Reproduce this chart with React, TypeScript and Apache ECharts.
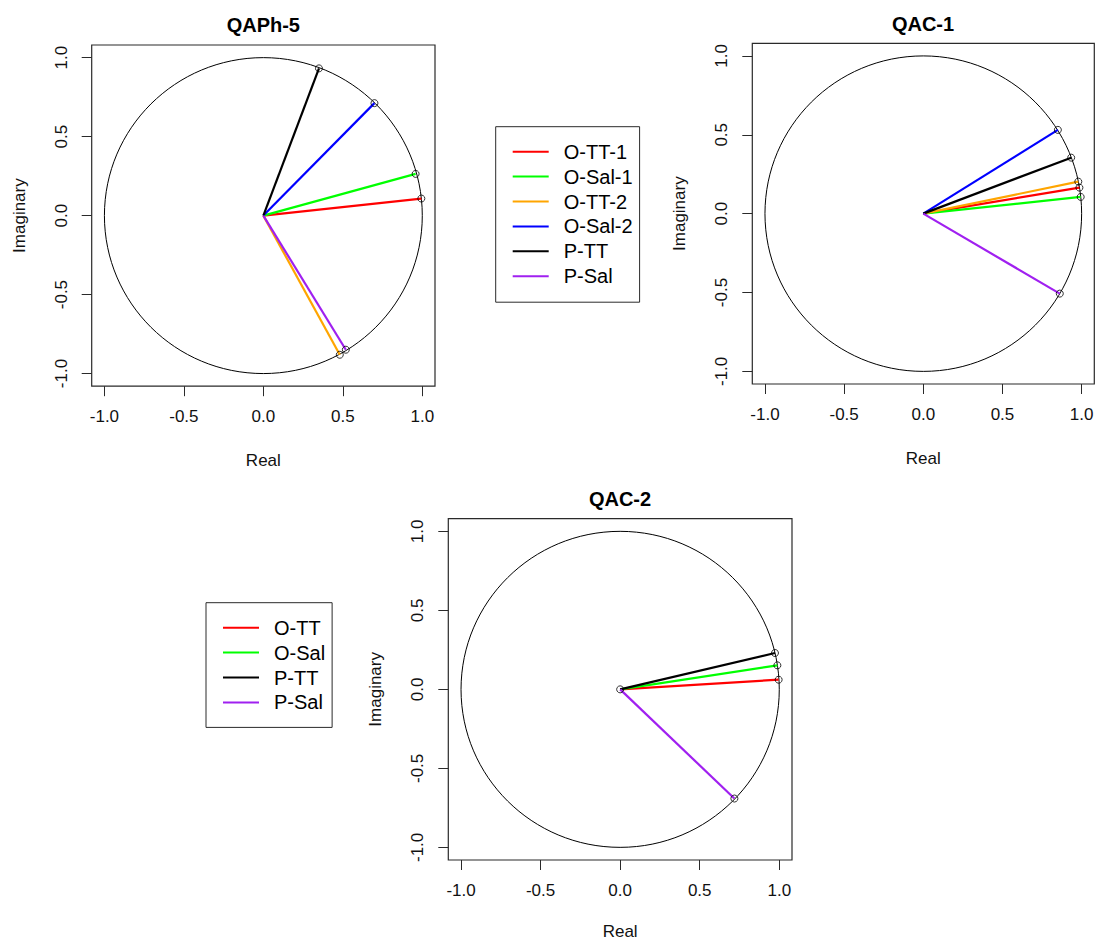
import React, { useEffect, useRef } from "react";
import * as echarts from "echarts";

// ---------- data ----------
const titles = ["QAPh-5", "QAC-1", "QAC-2"];
const xAxisName = "Real";
const yAxisName = "Imaginary";
const tickValues = [-1, -0.5, 0, 0.5, 1];
const axisMin = -1.08;
const axisMax = 1.08;
const unitCircle = [0, 0, 1]; // centre x, centre y, radius

const names6 = ["O-TT-1", "O-Sal-1", "O-TT-2", "O-Sal-2", "P-TT", "P-Sal"];
const colors6 = ["#FF0000", "#00FF00", "#FFA500", "#0000FF", "#000000", "#A020F0"];
const names4 = ["O-TT", "O-Sal", "P-TT", "P-Sal"];
const colors4 = ["#FF0000", "#00FF00", "#000000", "#A020F0"];

const qaph5Real = [0.994, 0.958, 0.481, 0.699, 0.35, 0.519];
const qaph5Imag = [0.108, 0.264, -0.881, 0.712, 0.932, -0.849];

const qac1Real = [0.986, 0.994, 0.979, 0.85, 0.934, 0.862];
const qac1Imag = [0.165, 0.106, 0.203, 0.531, 0.355, -0.507];

const qac2Real = [0.996, 0.988, 0.973, 0.718];
const qac2Imag = [0.061, 0.152, 0.23, -0.691];
const qac2ExtraReal = [0];
const qac2ExtraImag = [0];

const FONT = "'Liberation Sans', Arial, sans-serif";
const TXT = "#111";
const BORDER = "#2a2a2a";

const grids = [
  { left: 91.7, top: 45, width: 343.3, height: 341.2 },
  { left: 752.3, top: 43.3, width: 342, height: 340.7 },
  { left: 448.3, top: 518.7, width: 343.7, height: 341.3 },
];
const titlePos = [
  [263.3, 25],
  [923, 24],
  [620, 499],
];
const xNameGaps = [66, 66, 63];

function xAxisFor(i: number) {
  return {
    type: "value",
    gridIndex: i,
    min: axisMin,
    max: axisMax,
    position: "bottom",
    name: xAxisName,
    nameLocation: "middle",
    nameGap: xNameGaps[i],
    nameTextStyle: { fontFamily: FONT, fontSize: 17, color: TXT },
    axisLine: { show: false, onZero: false },
    axisTick: {
      show: true,
      inside: false,
      length: 10,
      customValues: tickValues,
      lineStyle: { color: BORDER, width: 1 },
    },
    axisLabel: {
      customValues: tickValues,
      formatter: (v: number) => v.toFixed(1),
      margin: 22,
      fontSize: 17,
      fontFamily: FONT,
      color: TXT,
    },
    splitLine: { show: false },
  };
}

function yAxisFor(i: number) {
  return {
    type: "value",
    gridIndex: i,
    min: axisMin,
    max: axisMax,
    position: "left",
    name: yAxisName,
    nameLocation: "middle",
    nameGap: 64,
    nameTextStyle: { fontFamily: FONT, fontSize: 17, color: TXT },
    axisLine: { show: false, onZero: false },
    axisTick: {
      show: true,
      inside: false,
      length: 10,
      customValues: tickValues,
      lineStyle: { color: BORDER, width: 1 },
    },
    axisLabel: {
      customValues: tickValues,
      formatter: (v: number) => v.toFixed(1),
      margin: 22,
      rotate: 90,
      fontSize: 17,
      fontFamily: FONT,
      color: TXT,
    },
    splitLine: { show: false },
  };
}

function circleSeries(i: number) {
  return {
    type: "custom",
    xAxisIndex: i,
    yAxisIndex: i,
    silent: true,
    z: 1,
    data: [unitCircle],
    renderItem: (_p: any, api: any) => {
      const c = api.coord([api.value(0), api.value(1)]);
      const s = api.size([api.value(2), api.value(2)]);
      return {
        type: "ellipse",
        shape: { cx: c[0], cy: c[1], rx: s[0], ry: s[1] },
        style: { fill: "none", stroke: "#000", lineWidth: 1 },
      };
    },
  };
}

function vectorSeries(i: number, names: string[], colors: string[], re: number[], im: number[]) {
  return names.map((n, k) => ({
    type: "line",
    name: n,
    xAxisIndex: i,
    yAxisIndex: i,
    data: [
      [0, 0],
      [re[k], im[k]],
    ],
    symbol: "none",
    silent: true,
    z: 2,
    lineStyle: { color: colors[k], width: 2.2 },
    itemStyle: { color: colors[k] },
  }));
}

function pointSeries(i: number, re: number[], im: number[]) {
  return {
    type: "scatter",
    xAxisIndex: i,
    yAxisIndex: i,
    silent: true,
    z: 3,
    symbol: "circle",
    symbolSize: 7,
    data: re.map((r, k) => [r, im[k]]),
    itemStyle: { color: "rgba(0,0,0,0)", borderColor: "#000", borderWidth: 1 },
  };
}

export default function App() {
  const ref = useRef<HTMLDivElement>(null);
  useEffect(() => {
    if (!ref.current) return;
    const chart = echarts.init(ref.current, null, { renderer: "svg" });
    const option: any = {
      animation: false,
      backgroundColor: "#ffffff",
      title: titles.map((t, i) => ({
        text: t,
        left: titlePos[i][0],
        top: titlePos[i][1],
        padding: 0,
        textAlign: "center",
        textVerticalAlign: "middle",
        textStyle: { fontFamily: FONT, fontSize: 20, fontWeight: "bold", color: "#000" },
      })),
      grid: grids.map((g) => ({
        ...g,
        show: true,
        borderColor: BORDER,
        borderWidth: 1.2,
        backgroundColor: "transparent",
        containLabel: false,
        outerBoundsMode: "none",
      })),
      xAxis: [0, 1, 2].map(xAxisFor),
      yAxis: [0, 1, 2].map(yAxisFor),
      legend: [
        {
          data: names6,
          orient: "vertical",
          left: 495.7,
          top: 126.7,
          padding: [15, 7, 16, 17],
          itemGap: 4.9,
          itemWidth: 36,
          itemHeight: 2,
          icon: "rect",
          borderColor: BORDER,
          borderWidth: 1,
          selectedMode: false,
          itemStyle: { borderWidth: 0 },
          textStyle: { fontFamily: FONT, fontSize: 20, color: "#000", padding: [0, 0, 0, 10] },
        },
        {
          data: names4,
          orient: "vertical",
          left: 206,
          top: 602.7,
          padding: [15, 7, 15, 17],
          itemGap: 4.9,
          itemWidth: 36,
          itemHeight: 2,
          icon: "rect",
          borderColor: BORDER,
          borderWidth: 1,
          selectedMode: false,
          itemStyle: { borderWidth: 0 },
          textStyle: { fontFamily: FONT, fontSize: 20, color: "#000", padding: [0, 0, 0, 10] },
        },
      ],
      series: [
        circleSeries(0),
        ...vectorSeries(0, names6, colors6, qaph5Real, qaph5Imag),
        pointSeries(0, qaph5Real, qaph5Imag),
        circleSeries(1),
        ...vectorSeries(1, names6, colors6, qac1Real, qac1Imag),
        pointSeries(1, qac1Real, qac1Imag),
        circleSeries(2),
        ...vectorSeries(2, names4, colors4, qac2Real, qac2Imag),
        pointSeries(2, qac2Real, qac2Imag),
        pointSeries(2, qac2ExtraReal, qac2ExtraImag),
      ],
    };
    chart.setOption(option);
    return () => chart.dispose();
  }, []);
  return (
    <div
      ref={ref}
      style={{ position: "absolute", left: 0, top: 0, width: 1096, height: 941 }}
    />
  );
}
